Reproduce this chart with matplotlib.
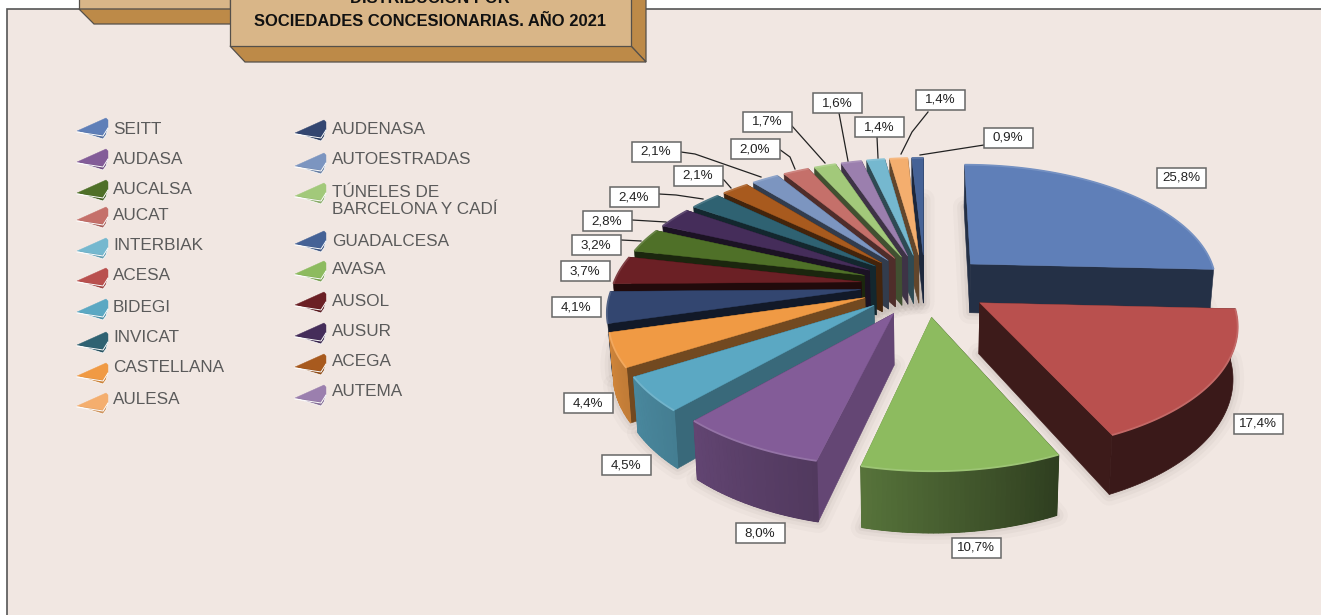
import numpy as np
import matplotlib
matplotlib.use("Agg")
import matplotlib.pyplot as plt
from matplotlib.colors import to_rgb
from matplotlib.patches import Polygon, Rectangle

# ---- data -----------------------------------------------------------------
companies = ["SEITT", "ACESA", "AVASA", "AUDASA", "BIDEGI", "CASTELLANA", "AUDENASA",
             "AUSOL", "AUCALSA", "AUSUR", "INVICAT", "ACEGA", "AUTOESTRADAS", "AUCAT",
             "TÚNELES DE\nBARCELONA Y CADÍ", "AUTEMA", "INTERBIAK", "AULESA", "GUADALCESA"]
shares = [25.8, 17.4, 10.7, 8.0, 4.5, 4.4, 4.1, 3.7, 3.2, 2.8, 2.4, 2.1, 2.1, 2.0, 1.7, 1.6, 1.4, 1.4, 0.9]
colors = ["#5f7fb8", "#b9504e", "#8dbb5f", "#835c98", "#5ba8c3", "#f09a44", "#334670",
          "#6b2025", "#4f7028", "#452d5a", "#2f6272", "#a85a1e", "#7c95c0", "#c5706a",
          "#a2c97a", "#9b7fae", "#75b8cf", "#f4ae6e", "#456296"]

# ---- layout ---------------------------------------------------------------
legend_col1 = ["SEITT", "AUDASA", "AUCALSA", "AUCAT", "INTERBIAK", "ACESA", "BIDEGI", "INVICAT", "CASTELLANA", "AULESA"]
legend_col2 = ["AUDENASA", "AUTOESTRADAS", "TÚNELES DE\nBARCELONA Y CADÍ", "GUADALCESA", "AVASA", "AUSOL", "AUSUR", "ACEGA", "AUTEMA"]
col1_text_y = [129, 159, 189, 215, 246, 276, 307, 338, 368, 399]
col2_text_y = [129, 160, 201, 242, 270, 301, 331, 361, 392]
col1_key_y = [118, 149, 180, 207, 238, 268, 299, 332, 363, 393]
col2_key_y = [120, 153, 183, 231, 261, 292, 323, 354, 385]

label_xy = [(1181, 178), (1258, 424), (976, 548), (760, 533), (626, 465), (588, 403), (576, 307),
            (585, 271), (596, 245), (607, 221), (634, 197), (698, 176), (656, 152), (755, 149),
            (767, 122), (837, 103), (879, 127), (940, 100), (1008, 138)]
leaders = {8: [(621, 240), (641, 241)], 9: [(632, 220), (666, 222)],
           10: [(659, 194), (676, 195), (703, 199)], 11: [(715, 176), (724, 180), (731, 188)],
           12: [(681, 152), (695, 154), (761, 177)], 13: [(779, 149), (790, 157), (795, 169)],
           14: [(792, 126), (825, 163)], 15: [(839, 113), (848, 161)], 16: [(877, 137), (878, 158)],
           17: [(928, 112), (912, 132), (901, 154)], 18: [(984, 145), (920, 155)]}

CX, CY, FX, FY, K, DEPTH, EXPLODE, PERSP = 925, 285, 248, 120, 0.15, 50, 0.26, 0.985
BG = "#f1e7e2"

fig = plt.figure(figsize=(13.21, 6.15), dpi=100, facecolor="white")
ax = fig.add_axes([0, 0, 1, 1])
ax.set_xlim(0, 1321)
ax.set_ylim(615, 0)
ax.axis("off")

# ---- panel and title plaque -----------------------------------------------
ax.add_patch(Rectangle((7, 9), 1320, 620, fc=BG, ec="#555555", lw=1.2, zorder=0))
TAN, BRONZE, EDGE = "#d9b688", "#bd8a48", "#55504a"
for pts, col in [([(79, -2), (79, 9), (230, 9), (230, -2)], TAN),
                 ([(79, 9), (94, 24), (245, 24), (230, 9)], BRONZE),
                 ([(631, -2), (646, -2), (646, 62), (631, 46)], BRONZE),
                 ([(230, 46), (245, 62), (646, 62), (631, 46)], BRONZE),
                 ([(230, -2), (230, 46), (631, 46), (631, -2)], TAN)]:
    ax.add_patch(Polygon(pts, closed=True, fc=col, ec=EDGE, lw=0.9, zorder=1))
ax.text(430, 3, "DISTRIBUCIÓN POR", ha="center", va="baseline", fontsize=11.9, weight="bold",
        family="Liberation Sans", color="#111111", zorder=2, clip_on=True)
ax.text(430, 26.5, "SOCIEDADES CONCESIONARIAS. AÑO 2021", ha="center", va="baseline", fontsize=11.9,
        weight="bold", family="Liberation Sans", color="#111111", zorder=2)


# ---- pie geometry ---------------------------------------------------------
def top(u, v):
    s = 1 / (1 + K * v)
    return CX + FX * u * s, CY - FY * v * s, s


def bottom(u, v):
    x, y, s = top(u, v)
    return CX + (x - CX) * PERSP, y + DEPTH * s


def shade(col, f):
    return tuple(min(1, c * f) for c in to_rgb(col))


def lift(col, f):
    return tuple(c + (1 - c) * f for c in to_rgb(col))


total = sum(shares)
edges = np.concatenate([[0], np.cumsum(shares)]) / total * 2 * np.pi
rim_tone_a = [90, 155, 194, 223, 260, 360]
rim_tone_f = [.30, .33, .62, .75, .88, .88]
cut_tone_a = [0, 93, 155, 194, 223, 240, 256, 271, 285, 296, 360]
cut_tone_f = [.38, .38, .33, .77, .62, .46, .35, .30, .35, .40, .40]

slices = []
for i in range(len(shares)):
    t0, t1 = edges[i], edges[i + 1]
    mid = (t0 + t1) / 2
    ou, ov = EXPLODE * np.sin(mid), EXPLODE * np.cos(mid)
    n = max(3, int((t1 - t0) * 60))
    ts = np.linspace(t0, t1, n)
    us, vs = ou + np.sin(ts), ov + np.cos(ts)
    slices.append(dict(i=i, mid=mid, ou=ou, ov=ov, ts=ts, us=us, vs=vs))

order = sorted(slices, key=lambda d: -np.cos(d["mid"]))

# soft shadow
for lw, alpha in [(16, .035), (10, .05), (5, .07)]:
    for d in order:
        bx = [bottom(d["ou"], d["ov"])] + [bottom(u, v) for u, v in zip(d["us"], d["vs"])]
        ax.add_patch(Polygon(bx, closed=True, fc="#6f645c", ec="#6f645c", lw=lw, alpha=alpha,
                             joinstyle="round", zorder=3))

# slices, back to front
z = 4
for d in order:
    col = colors[d["i"]]
    apex_t = top(d["ou"], d["ov"])[:2]
    apex_b = bottom(d["ou"], d["ov"])
    tops = [top(u, v)[:2] for u, v in zip(d["us"], d["vs"])]
    bots = [bottom(u, v) for u, v in zip(d["us"], d["vs"])]
    faces = []
    for k, t in ((0, d["ts"][0]), (-1, d["ts"][-1])):
        f = np.interp(np.degrees(t), cut_tone_a, cut_tone_f)
        quad = [apex_t, tops[k], bots[k], apex_b]
        faces.append((np.mean([p[1] for p in quad]), quad, shade(col, f)))
    for _, quad, fc in sorted(faces, key=lambda q: q[0]):
        ax.add_patch(Polygon(quad, closed=True, fc=fc, ec=fc, lw=0.4, zorder=z))
        z += 1
    # outer rim: one solid band with a gradient of quads laid over it
    mid_deg = np.degrees(d["mid"])
    angles = np.degrees((d["ts"][:-1] + d["ts"][1:]) / 2)
    if 90 < mid_deg < 258:
        base = shade(col, np.interp(mid_deg, rim_tone_a, rim_tone_f))
        ax.add_patch(Polygon(tops + bots[::-1], closed=True, fc=base, ec=base, lw=0.5, zorder=z))
        z += 1
        if mid_deg > 150:
            for j, a in enumerate(angles):
                fc = shade(col, np.interp(a, rim_tone_a, rim_tone_f))
                ax.add_patch(Polygon([tops[j], tops[j + 1], bots[j + 1], bots[j]], closed=True,
                                     fc=fc, ec=fc, lw=0.9, zorder=z))
            z += 1
    ax.add_patch(Polygon([apex_t] + tops, closed=True, fc=col, ec=col, lw=0.3, zorder=z))
    z += 1
    ax.plot([p[0] for p in tops], [p[1] for p in tops], color=lift(col, .14), lw=1.3,
            solid_capstyle="butt", zorder=z)
    z += 1

# data labels
for i, (x, y) in enumerate(label_xy):
    if i in leaders:
        ax.plot(*zip(*leaders[i]), color="#222222", lw=0.9, zorder=z)
for i, (x, y) in enumerate(label_xy):
    ax.add_patch(Rectangle((x - 24.5, y - 10), 49, 20, fc="white", ec="#666666", lw=1.1, zorder=z + 1))
    ax.text(x, y, f"{shares[i]:.1f}".replace(".", ",") + "%", ha="center", va="center",
            fontsize=9.6, family="Liberation Sans", color="#222222", zorder=z + 2)
z += 3


# ---- legend ---------------------------------------------------------------
def legend_key(x, y, col):
    dark = shade(col, .85)
    ax.add_patch(Polygon([(x, y + 13), (x + 26, y + 21), (x + 29, y + 17), (x + 31, y + 10)],
                         closed=True, fc=dark, ec="white", lw=0.5, zorder=z))
    ax.add_patch(Polygon([(x, y + 13), (x + 29, y), (x + 31, y + 2), (x + 31, y + 10), (x + 26, y + 17)],
                         closed=True, fc=col, ec=col, lw=0.3, zorder=z + 1))
    ax.plot([x, x + 26, x + 31], [y + 14, y + 18, y + 10], color="white", lw=0.7, zorder=z + 2)


for names, ys, kys, kx, tx in [(legend_col1, col1_text_y, col1_key_y, 77, 113),
                               (legend_col2, col2_text_y, col2_key_y, 295, 332)]:
    for name, y, ky in zip(names, ys, kys):
        legend_key(kx, ky, colors[companies.index(name)])
        ax.text(tx, y, name, ha="left", va="center", fontsize=12.3, family="Liberation Sans",
                color="#5a5a5a", linespacing=1.12, zorder=z)

fig.savefig("out.png", dpi=100, facecolor="white")
